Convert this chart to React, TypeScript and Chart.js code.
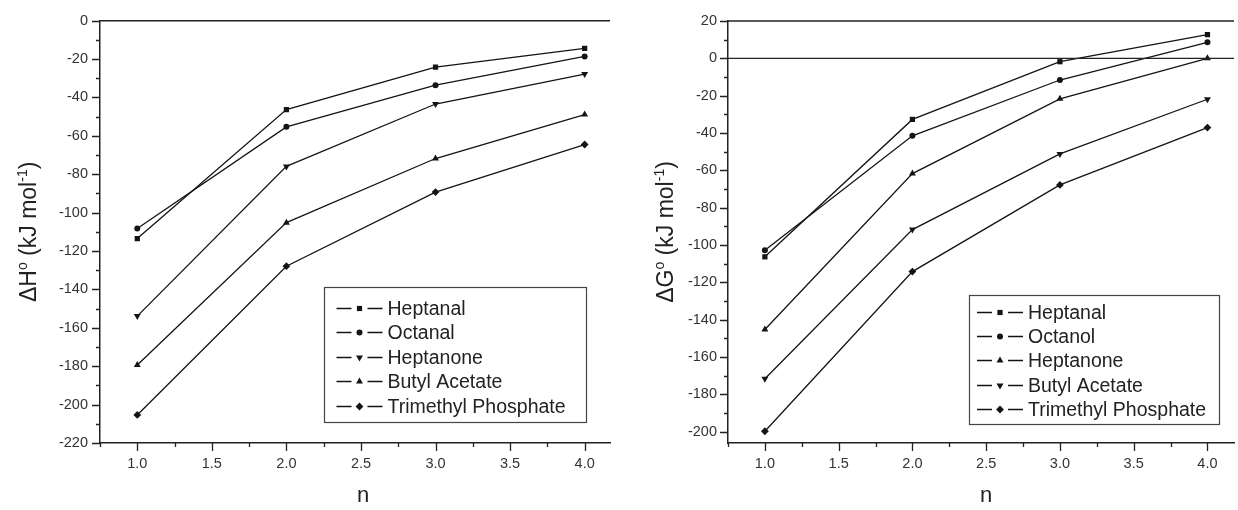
import React, { useEffect, useRef } from "react";
import { Chart, registerables } from "chart.js";

Chart.register(...registerables);

// ---------- shared x axis ----------
const nValues = [1.0, 2.0, 3.0, 4.0];
const xMajorTicks = [1.0, 1.5, 2.0, 2.5, 3.0, 3.5, 4.0];
const xMinorTicks = [0.75, 1.25, 1.75, 2.25, 2.75, 3.25, 3.75];

// ---------- left panel: ΔH° ----------
const leftNames = ["Heptanal", "Octanal", "Heptanone", "Butyl Acetate", "Trimethyl Phosphate"];
const leftMarkers = ["square", "circle", "down", "up", "diamond"];
const dHHeptanal = [-113.5, -46.3, -24.2, -14.4];
const dHOctanal = [-108.3, -55.3, -33.6, -18.6];
const dHHeptanone = [-153.9, -75.9, -43.4, -27.8];
const dHButylAcetate = [-179.4, -105.2, -71.8, -48.9];
const dHTrimethylPhosphate = [-205.4, -127.9, -89.3, -64.5];
const leftYMajor = [0, -20, -40, -60, -80, -100, -120, -140, -160, -180, -200, -220];
const leftYMinor = [-10, -30, -50, -70, -90, -110, -130, -150, -170, -190, -210];

// ---------- right panel: ΔG° ----------
const rightNames = ["Heptanal", "Octanol", "Heptanone", "Butyl Acetate", "Trimethyl Phosphate"];
const rightMarkers = ["square", "circle", "up", "down", "diamond"];
const dGHeptanal = [-106.3, -32.7, -1.8, 12.7];
const dGOctanol = [-102.8, -41.5, -11.6, 8.6];
const dGHeptanone = [-145.2, -61.7, -21.7, 0.0];
const dGButylAcetate = [-171.6, -91.7, -51.2, -21.9];
const dGTrimethylPhosphate = [-199.7, -114.2, -67.8, -37.1];
const rightYMajor = [20, 0, -20, -40, -60, -80, -100, -120, -140, -160, -180, -200];
const rightYMinor = [10, -10, -30, -50, -70, -90, -110, -130, -150, -170, -190];

const FONT = '"Liberation Sans", Arial, "DejaVu Sans", sans-serif';
const INK = "#141414";

function styleFor(m: string) {
  switch (m) {
    case "square": return { pointStyle: "rect", rotation: 0, radius: 3.7 };
    case "circle": return { pointStyle: "circle", rotation: 0, radius: 3.0 };
    case "up": return { pointStyle: "triangle", rotation: 0, radius: 4.0 };
    case "down": return { pointStyle: "triangle", rotation: 180, radius: 4.0 };
    default: return { pointStyle: "rectRot", rotation: 0, radius: 3.9 };
  }
}

function drawMarker(ctx: CanvasRenderingContext2D, m: string, x: number, y: number) {
  ctx.beginPath();
  if (m === "square") {
    ctx.rect(x - 2.6, y - 2.6, 5.2, 5.2);
  } else if (m === "circle") {
    ctx.arc(x, y, 3.0, 0, Math.PI * 2);
  } else if (m === "up" || m === "down") {
    const r = 4.0;
    const s = m === "up" ? 1 : -1;
    ctx.moveTo(x, y - s * r);
    ctx.lineTo(x + r * 0.866, y + s * r * 0.5);
    ctx.lineTo(x - r * 0.866, y + s * r * 0.5);
    ctx.closePath();
  } else {
    const r = 3.9;
    ctx.moveTo(x, y - r);
    ctx.lineTo(x + r, y);
    ctx.lineTo(x, y + r);
    ctx.lineTo(x - r, y);
    ctx.closePath();
  }
  ctx.fill();
}

function drawVerticalTitle(ctx: CanvasRenderingContext2D, main: string, cx: number, cy: number) {
  const big = `23px ${FONT}`;
  const small = `14px ${FONT}`;
  const segs = [
    { t: main, f: big, dy: 0 },
    { t: "o", f: small, dy: -9 },
    { t: " (kJ mol", f: big, dy: 0 },
    { t: "-1", f: small, dy: -9 },
    { t: ")", f: big, dy: 0 },
  ];
  let total = 0;
  for (const s of segs) { ctx.font = s.f; total += ctx.measureText(s.t).width; }
  ctx.save();
  ctx.translate(cx, cy);
  ctx.rotate(-Math.PI / 2);
  ctx.fillStyle = "#222";
  ctx.textBaseline = "alphabetic";
  ctx.textAlign = "left";
  let x = -total / 2;
  for (const s of segs) {
    ctx.font = s.f;
    ctx.fillText(s.t, x, 8 + s.dy);
    x += ctx.measureText(s.t).width;
  }
  ctx.restore();
}

const decorPlugin = {
  id: "decor",
  afterDraw(chart: any, _args: any, opts: any) {
    const { ctx, chartArea: ca, scales } = chart;
    const xs = scales.x, ys = scales.y;
    ctx.save();
    ctx.strokeStyle = "#222";
    // top frame line
    ctx.lineWidth = 1.5;
    ctx.beginPath();
    ctx.moveTo(ca.left, ca.top);
    ctx.lineTo(ca.right, ca.top);
    ctx.stroke();
    if (opts.zeroLine) {
      const y0 = ys.getPixelForValue(0);
      ctx.lineWidth = 1.3;
      ctx.beginPath();
      ctx.moveTo(ca.left, y0);
      ctx.lineTo(ca.right, y0);
      ctx.stroke();
    }
    // ticks
    ctx.lineWidth = 1.3;
    ctx.beginPath();
    for (const v of opts.xMajor) {
      const p = Math.round(xs.getPixelForValue(v)) + 0.5;
      ctx.moveTo(p, ca.bottom); ctx.lineTo(p, ca.bottom + 8);
    }
    for (const v of opts.xMinor) {
      const p = Math.round(xs.getPixelForValue(v)) + 0.5;
      ctx.moveTo(p, ca.bottom); ctx.lineTo(p, ca.bottom + 4);
    }
    for (const v of opts.yMajor) {
      const p = Math.round(ys.getPixelForValue(v)) + 0.5;
      ctx.moveTo(ca.left, p); ctx.lineTo(ca.left - 8, p);
    }
    for (const v of opts.yMinor) {
      const p = Math.round(ys.getPixelForValue(v)) + 0.5;
      ctx.moveTo(ca.left, p); ctx.lineTo(ca.left - 4, p);
    }
    ctx.stroke();

    // x title
    ctx.fillStyle = "#222";
    ctx.font = `22px ${FONT}`;
    ctx.textAlign = "center";
    ctx.textBaseline = "middle";
    ctx.fillText("n", (ca.left + ca.right) / 2 + opts.xTitleShift, 496);

    // y title
    drawVerticalTitle(ctx, opts.yTitleMain, opts.yTitleX, (ca.top + ca.bottom) / 2);

    // legend
    const L = opts.legend;
    const bx = ca.right - L.rightGap - L.w;
    const by = ca.bottom - L.bottomGap - L.h;
    ctx.fillStyle = "#fff";
    ctx.fillRect(bx, by, L.w, L.h);
    ctx.strokeStyle = "#444";
    ctx.lineWidth = 1.2;
    ctx.strokeRect(bx + 0.5, by + 0.5, L.w, L.h);
    chart.data.datasets.forEach((ds: any, i: number) => {
      const cy = Math.round(by + L.first + i * L.step) + 0.5;
      const x0 = bx + L.pad;
      ctx.strokeStyle = INK;
      ctx.lineWidth = 1.3;
      ctx.beginPath();
      ctx.moveTo(x0, cy); ctx.lineTo(x0 + 15, cy);
      ctx.moveTo(x0 + 31, cy); ctx.lineTo(x0 + 46, cy);
      ctx.stroke();
      ctx.fillStyle = INK;
      drawMarker(ctx, opts.markers[i], x0 + 23, cy);
      ctx.fillStyle = "#222";
      ctx.font = `19.5px ${FONT}`;
      ctx.textAlign = "left";
      ctx.textBaseline = "middle";
      ctx.fillText(ds.label, x0 + 51, cy + 1);
    });
    ctx.restore();
  },
};

type PanelCfg = {
  names: string[];
  markers: string[];
  series: number[][];
  yMin: number;
  yMax: number;
  yMajor: number[];
  yMinor: number[];
  xMax: number;
  yAxisWidth: number;
  yLabelPad: number;
  padding: { top: number; right: number; bottom: number; left: number };
  zeroLine: boolean;
  yTitleMain: string;
  yTitleX: number;
  xTitleShift: number;
  legend: any;
};

function Panel({ cfg }: { cfg: PanelCfg }) {
  const ref = useRef<HTMLCanvasElement>(null);
  useEffect(() => {
    const datasets = cfg.series.map((vals, i) => {
      const st = styleFor(cfg.markers[i]);
      return {
        label: cfg.names[i],
        data: nValues.map((n, k) => ({ x: n, y: vals[k] })),
        borderColor: INK,
        backgroundColor: INK,
        borderWidth: 1.3,
        pointStyle: st.pointStyle,
        rotation: st.rotation,
        pointRadius: st.radius,
        pointBorderWidth: 0,
        pointBackgroundColor: INK,
        tension: 0,
      };
    });
    const chart = new Chart(ref.current as HTMLCanvasElement, {
      type: "line",
      data: { datasets } as any,
      plugins: [decorPlugin as any],
      options: {
        animation: false,
        responsive: false,
        devicePixelRatio: 1,
        layout: { padding: cfg.padding },
        plugins: {
          legend: { display: false },
          tooltip: { enabled: false },
          decor: {
            xMajor: xMajorTicks,
            xMinor: xMinorTicks,
            yMajor: cfg.yMajor,
            yMinor: cfg.yMinor,
            zeroLine: cfg.zeroLine,
            yTitleMain: cfg.yTitleMain,
            yTitleX: cfg.yTitleX,
            xTitleShift: cfg.xTitleShift,
            legend: cfg.legend,
            markers: cfg.markers,
          },
        } as any,
        scales: {
          x: {
            type: "linear",
            min: 0.75,
            max: cfg.xMax,
            afterBuildTicks: (s: any) => { s.ticks = xMajorTicks.map((v) => ({ value: v })); },
            afterFit: (s: any) => { s.height = 67; },
            grid: { display: false, drawTicks: false },
            border: { display: true, color: "#222", width: 1.5 },
            ticks: {
              autoSkip: false,
              maxRotation: 0,
              padding: 12,
              color: "#333",
              font: { family: FONT, size: 14.5 },
              callback: (v: any) => Number(v).toFixed(1),
            },
          },
          y: {
            type: "linear",
            min: cfg.yMin,
            max: cfg.yMax,
            afterBuildTicks: (s: any) => { s.ticks = cfg.yMajor.map((v) => ({ value: v })); },
            afterFit: (s: any) => { s.width = cfg.yAxisWidth; },
            grid: { display: false, drawTicks: false },
            border: { display: true, color: "#222", width: 1.5 },
            ticks: {
              autoSkip: false,
              padding: cfg.yLabelPad,
              color: "#333",
              font: { family: FONT, size: 14.5 },
              callback: (v: any) => String(v),
            },
          },
        },
      } as any,
    });
    return () => chart.destroy();
  }, []);
  return <canvas ref={ref} width={619} height={510} style={{ display: "block" }} />;
}

const leftCfg: PanelCfg = {
  names: leftNames,
  markers: leftMarkers,
  series: [dHHeptanal, dHOctanal, dHHeptanone, dHButylAcetate, dHTrimethylPhosphate],
  yMin: -220,
  yMax: 0,
  yMajor: leftYMajor,
  yMinor: leftYMinor,
  xMax: 4.17,
  yAxisWidth: 100,
  yLabelPad: 12,
  padding: { top: 20, right: 9, bottom: 0, left: 0 },
  zeroLine: false,
  yTitleMain: "ΔH",
  yTitleX: 28,
  xTitleShift: 8,
  legend: { w: 262, h: 135, rightGap: 24, bottomGap: 21, pad: 12.5, first: 21, step: 24.4 },
};

const rightCfg: PanelCfg = {
  names: rightNames,
  markers: rightMarkers,
  series: [dGHeptanal, dGOctanol, dGHeptanone, dGButylAcetate, dGTrimethylPhosphate],
  yMin: -206,
  yMax: 20,
  yMajor: rightYMajor,
  yMinor: rightYMinor,
  xMax: 4.18,
  yAxisWidth: 109,
  yLabelPad: 11,
  padding: { top: 21, right: 0, bottom: 0, left: 0 },
  zeroLine: true,
  yTitleMain: "ΔG",
  yTitleX: 46,
  xTitleShift: 5,
  legend: { w: 250, h: 129, rightGap: 15, bottomGap: 19, pad: 8, first: 17, step: 24.2 },
};

export default function App() {
  return (
    <div style={{ position: "absolute", left: 0, top: 0, width: 1238, height: 510, background: "#fff", overflow: "hidden" }}>
      <div style={{ position: "absolute", left: 0, top: 0, width: 619, height: 510 }}>
        <Panel cfg={leftCfg} />
      </div>
      <div style={{ position: "absolute", left: 619, top: 0, width: 619, height: 510 }}>
        <Panel cfg={rightCfg} />
      </div>
    </div>
  );
}
